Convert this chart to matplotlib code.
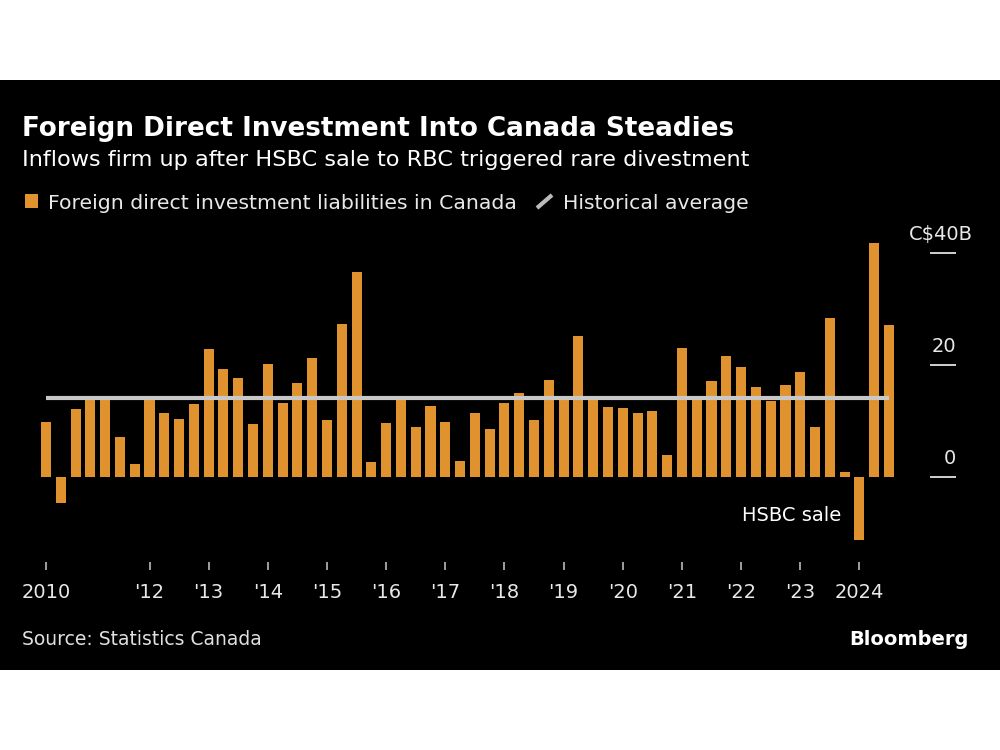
import numpy as np
import pandas as pd
import matplotlib
matplotlib.use('Agg')
import matplotlib.pyplot as plt
import matplotlib.transforms as mtransforms
from matplotlib.patches import Rectangle
from matplotlib.lines import Line2D

# Datos: inversión extranjera directa trimestral (miles de millones C$), desde 2010T2
fdi = [9.8, -4.6, 12.1, 13.8, 13.8, 7.2, 2.3, 14.2, 11.5, 10.4,
       13.0, 22.8, 19.3, 17.6, 9.4, 20.1, 13.2, 16.8, 21.2, 10.2,
       27.3, 36.5, 2.7, 9.7, 13.8, 9.0, 12.6, 9.9, 2.9, 11.4,
       8.6, 13.2, 14.9, 10.2, 17.3, 13.8, 25.1, 13.8, 12.5, 12.3,
       11.4, 11.7, 3.9, 23.0, 13.8, 17.2, 21.6, 19.6, 16.1, 13.6,
       16.4, 18.8, 8.9, 28.3, 0.8, -11.3, 41.8, 27.2]
hist_avg = 14.1
quarters = pd.period_range('2010Q2', periods=len(fdi), freq='Q')

tick_years = [2010, 2012, 2013, 2014, 2015, 2016, 2017, 2018, 2019, 2020, 2021, 2022, 2023, 2024]
tick_labels = ['2010', "'12", "'13", "'14", "'15", "'16", "'17", "'18", "'19", "'20", "'21", "'22", "'23", '2024']
y_ticks = [0, 20, 40]
y_labels = ['0', '20', 'C$40B']

orange = '#e0922f'
grey = '#c8c8c8'
W, H = 1000, 750

fig = plt.figure(figsize=(10, 7.5), dpi=100)
fig.patch.set_facecolor('white')
# panel negro
fig.patches.append(Rectangle((0, 1 - 670 / H), 1, 590 / H, transform=fig.transFigure,
                             facecolor='black', edgecolor='none', zorder=-10))

# ejes en pixeles: x 30..956, y 240..562
ax = fig.add_axes([30 / W, 1 - 562 / H, 926 / W, 322 / H])
ax.set_facecolor('none')
x = np.arange(len(fdi))
ax.bar(x, fdi, width=0.68, color=orange, zorder=2)
ax.plot([0, len(fdi) - 1], [hist_avg, hist_avg], color=grey, linewidth=3, zorder=3,
        solid_capstyle='butt')

ax.set_xlim(-1.08, 61.53)
ax.set_ylim(-15.18, 42.3)
for s in ax.spines.values():
    s.set_visible(False)

# ticks eje x
pos = []
for yr in tick_years:
    idx = [i for i, q in enumerate(quarters) if q.year == yr]
    pos.append(idx[0])
ax.set_xticks(pos)
ax.set_xticklabels(tick_labels)
ax.tick_params(axis='x', direction='out', length=5.8, width=1.2, color='#bbbbbb',
               labelsize=14, labelcolor='#e8e8e8', pad=9)

# ticks eje y a la derecha
ax.yaxis.tick_right()
ax.set_yticks(y_ticks)
ax.tick_params(axis='y', direction='in', length=18.7, width=1.4, color='#d0d0d0',
               labelright=False, labelleft=False)
tr = mtransforms.blended_transform_factory(ax.transAxes, ax.transData)
for v, lab in zip(y_ticks, y_labels):
    dx = 12 if lab.startswith('C$') else 0
    ax.annotate(lab, xy=(1.0, v), xycoords=tr, xytext=(dx, 9.4), textcoords='offset points',
                ha='right', va='baseline', fontsize=14, color='#e8e8e8', annotation_clip=False)

# anotación HSBC
hsbc = fdi.index(min(fdi))
ax.text(hsbc - 1.2, -6.8, 'HSBC sale', ha='right', va='center', fontsize=14, color='white')

# títulos
fig.text(22 / W, 1 - 136 / H, 'Foreign Direct Investment Into Canada Steadies',
         fontsize=18.9, fontweight='bold', color='white', va='baseline')
fig.text(22 / W, 1 - 166 / H, 'Inflows firm up after HSBC sale to RBC triggered rare divestment',
         fontsize=16.1, color='white', va='baseline')

# leyenda manual
fig.patches.append(Rectangle((25 / W, 1 - 208 / H), 13 / W, 14 / H, transform=fig.transFigure,
                             facecolor=orange, edgecolor='none'))
fig.text(48 / W, 1 - 209 / H, 'Foreign direct investment liabilities in Canada',
         fontsize=14.7, color='#e8e8e8', va='baseline')
fig.lines.append(Line2D([537 / W, 552 / W], [1 - 208 / H, 1 - 195 / H], transform=fig.transFigure,
                        color='#bbbbbb', linewidth=3, solid_capstyle='butt'))
fig.text(563 / W, 1 - 209 / H, 'Historical average', fontsize=14.7, color='#e8e8e8', va='baseline')

# pie
fig.text(22 / W, 1 - 645 / H, 'Source: Statistics Canada', fontsize=13.5, color='#e0e0e0', va='baseline')
fig.text(969 / W, 1 - 645 / H, 'Bloomberg', fontsize=14, fontweight='bold', color='white',
         va='baseline', ha='right')

plt.savefig('out.png', dpi=100, facecolor=fig.get_facecolor())
